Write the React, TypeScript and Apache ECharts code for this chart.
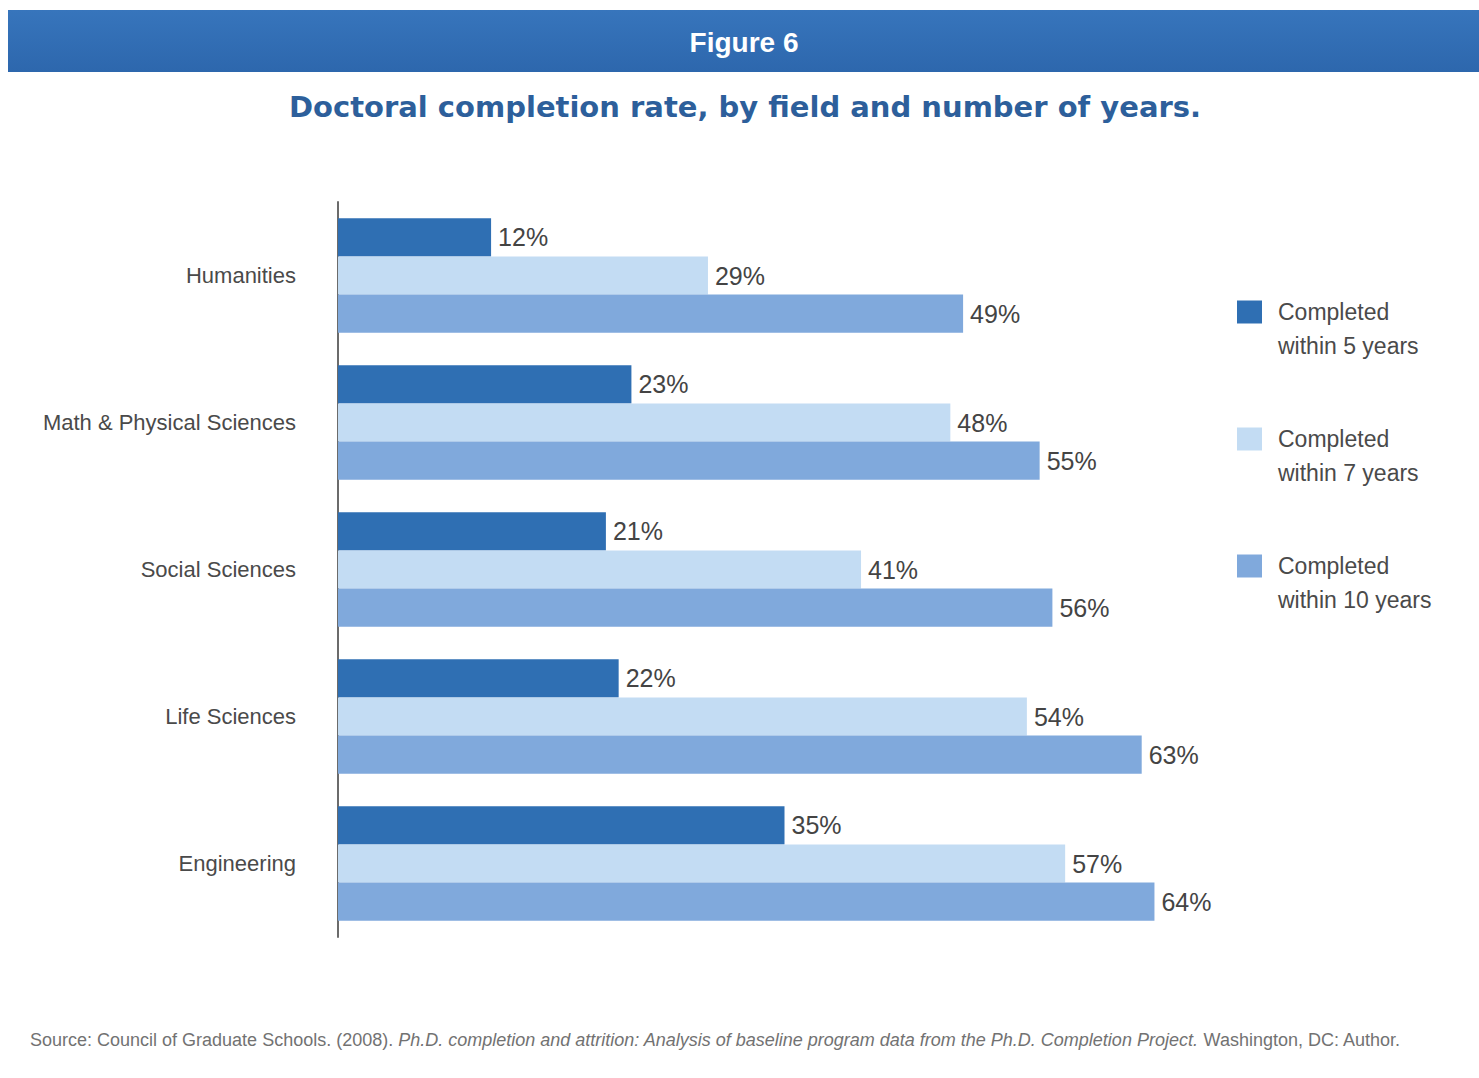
import React, { useEffect, useRef } from "react";
import * as echarts from "echarts";

const categories = ["Humanities", "Math & Physical Sciences", "Social Sciences", "Life Sciences", "Engineering"];
const seriesNames = ["Completed\nwithin 5 years", "Completed\nwithin 7 years", "Completed\nwithin 10 years"];
const within5 = [12, 23, 21, 22, 35];
const within7 = [29, 48, 41, 54, 57];
const within10 = [49, 55, 56, 63, 64];
const seriesColors = ["#2f6fb3", "#c3dcf3", "#80a9dc"];

const FONT = "'Liberation Sans', Arial, Helvetica, sans-serif";
const WIDE_BOLD = "'DejaVu Sans', 'Liberation Sans', sans-serif";

export default function App() {
  const ref = useRef<HTMLDivElement>(null);
  useEffect(() => {
    document.body.style.margin = "0";
    const chart = echarts.init(ref.current!, null, { renderer: "svg" });
    const values = [within5, within7, within10];
    const lh = 34;
    chart.setOption({
      animation: false,
      backgroundColor: "#ffffff",
      textStyle: { fontFamily: FONT },
      grid: { left: 338, top: 202, width: 893, height: 735 },
      xAxis: { type: "value", min: 0, max: 70, show: false },
      yAxis: {
        type: "category",
        data: categories,
        inverse: true,
        axisTick: { show: false },
        axisLine: { show: true, lineStyle: { color: "#6b6b6b", width: 2 } },
        axisLabel: { fontSize: 22, color: "#4a4a4a", margin: 42, fontFamily: FONT },
      },
      legend: {
        orient: "vertical",
        left: 1237,
        top: 261,
        padding: 0,
        itemWidth: 25,
        itemHeight: 23,
        itemGap: 25,
        icon: "rect",
        data: seriesNames,
        formatter: (name: string) => "\n" + name,
        textStyle: {
          fontSize: 23,
          color: "#4a4a4a",
          lineHeight: lh,
          padding: [0, 0, 0, 11],
          fontFamily: FONT,
        },
      },
      series: values.map((v, i) => ({
        name: seriesNames[i],
        type: "bar",
        data: v,
        barGap: "0%",
        barCategoryGap: "22%",
        itemStyle: { color: seriesColors[i] },
        label: {
          show: true,
          position: "right",
          distance: 7,
          formatter: "{c}%",
          fontSize: 25,
          color: "#444444",
          fontFamily: FONT,
        },
      })),
      graphic: [
        {
          type: "rect",
          left: 8,
          top: 10,
          shape: { width: 1471, height: 62 },
          style: {
            fill: new echarts.graphic.LinearGradient(0, 0, 0, 1, [
              { offset: 0, color: "#3775bc" },
              { offset: 1, color: "#2d67ad" },
            ]),
          },
        },
        {
          type: "text",
          x: 744,
          y: 42,
          style: {
            text: "Figure 6",
            fill: "#ffffff",
            font: `bold 28px ${FONT}`,
            align: "center",
            verticalAlign: "middle",
          },
        },
        {
          type: "text",
          x: 745,
          y: 107,
          style: {
            text: "Doctoral completion rate, by field and number of years.",
            fill: "#2d5f9b",
            font: `bold 29px ${WIDE_BOLD}`,
            align: "center",
            verticalAlign: "middle",
          },
        },
        {
          type: "text",
          x: 30,
          y: 1040,
          style: {
            text:
              "{n|Source: Council of Graduate Schools. (2008). }{i|Ph.D. completion and attrition: Analysis of baseline program data from the Ph.D. Completion Project.}{n| Washington, DC: Author.}",
            verticalAlign: "middle",
            rich: {
              n: { fontSize: 18, fill: "#727272", fontFamily: FONT },
              i: { fontSize: 18, fill: "#727272", fontStyle: "italic", fontFamily: FONT },
            },
          },
        },
      ],
    });
    return () => chart.dispose();
  }, []);
  return <div ref={ref} style={{ width: 1479, height: 1078 }} />;
}
